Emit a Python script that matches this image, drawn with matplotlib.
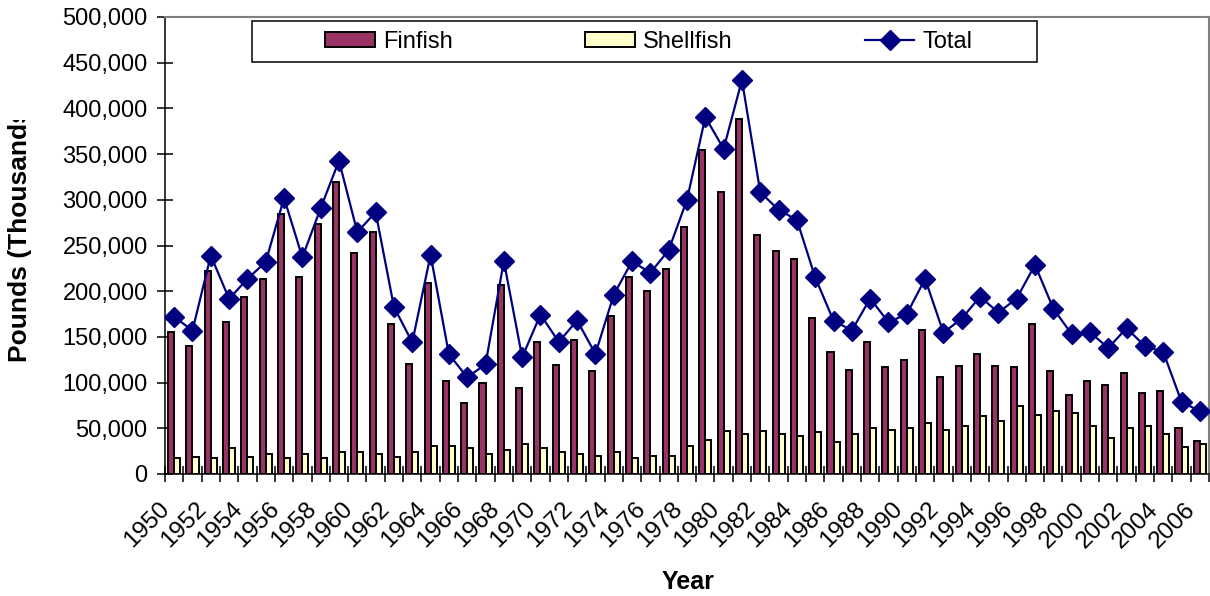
import matplotlib
matplotlib.use("Agg")
import matplotlib.pyplot as plt
import numpy as np
from matplotlib.patches import Rectangle
from matplotlib.ticker import FuncFormatter
from matplotlib.transforms import Bbox, TransformedBbox, ScaledTranslation

plt.rcParams["font.family"] = ["Liberation Sans", "DejaVu Sans"]

years = list(range(1950, 2007))
finfish = [155000, 140000, 222000, 166000, 194000, 213500, 285000, 215700, 274000, 319000,
           241600, 265000, 164000, 120800, 209500, 101500, 77400, 99300, 207000, 94500,
           144500, 119000, 146700, 112400, 172600, 215700, 200700, 224000, 269700, 354000,
           308000, 388000, 261000, 243800, 235400, 170800, 134000, 114000, 144000, 116800,
           125000, 157600, 105800, 118600, 131700, 118600, 116800, 164000, 112400, 86500,
           101500, 97000, 110000, 88700, 90900, 50000, 36500]
shellfish = [17000, 19000, 17000, 28000, 19000, 21500, 17000, 21500, 17000, 24000,
             24000, 21500, 19000, 24000, 30600, 30600, 28000, 22000, 26000, 33000,
             28000, 24000, 22000, 20000, 24000, 17500, 20000, 20000, 30600, 37000,
             47000, 44000, 47000, 44000, 42000, 46000, 35000, 44000, 50000, 48000,
             50000, 56000, 48000, 52500, 63000, 58000, 74000, 65000, 69000, 67000,
             52500, 39000, 50000, 52500, 44000, 30000, 32500]
total = [172000, 157000, 239000, 191600, 213500, 232000, 302000, 237000, 291000, 342700,
         264600, 286500, 182800, 144000, 239800, 131000, 105800, 120000, 233000, 127700,
         174400, 144500, 168000, 131400, 196000, 232800, 220000, 245000, 300000, 390500,
         355800, 431000, 308400, 289000, 278000, 215000, 167800, 157000, 192000, 166000,
         175000, 213500, 154700, 170000, 194000, 176600, 192000, 228800, 181000, 153000,
         155000, 138000, 159500, 140000, 133600, 79000, 68600]

W, H = 1210, 596
fig = plt.figure(figsize=(W / 100, H / 100), dpi=100)
ax = fig.add_axes([165 / W, 1 - 474 / H, (1209 - 165) / W, (474 - 17) / H])

x = np.arange(len(years))
bw = 0.33
b1 = ax.bar(x - bw / 2, finfish, bw, color="#993366", edgecolor="black", linewidth=1.4,
            label="Finfish", zorder=2)
b2 = ax.bar(x + bw / 2, shellfish, bw, color="#FFFFCC", edgecolor="black", linewidth=1.4,
            label="Shellfish", zorder=2)
ln, = ax.plot(x, total, color="#000080", lw=1.6, marker="D", markersize=10,
              label="Total", zorder=3)

ax.set_xlim(-0.5, len(years) - 0.5)
ax.set_ylim(0, 500000)
ax.set_yticks(np.arange(0, 500001, 50000))
ax.yaxis.set_major_formatter(FuncFormatter(lambda v, p: f"{int(v):,}"))
ax.tick_params(axis="y", direction="inout", length=11, width=1.1, labelsize=17, pad=7)

ax.set_xticks(x[::2])
ax.set_xticklabels([str(y) for y in years[::2]])
ax.set_xticks(np.arange(-0.5, len(years)), minor=True)
ax.tick_params(axis="x", which="major", length=0, labelsize=17.5, pad=23)
ax.tick_params(axis="x", which="minor", direction="inout", length=11, width=1.1)
shift = ScaledTranslation(-0.08, 0, fig.dpi_scale_trans)
for lbl in ax.get_xticklabels():
    lbl.set_rotation(45)
    lbl.set_ha("right")
    lbl.set_va("center")
    lbl.set_rotation_mode("anchor")
    lbl.set_transform(lbl.get_transform() + shift)

for s in ["left", "bottom"]:
    ax.spines[s].set_linewidth(1.1)
for s in ["top", "right"]:
    ax.spines[s].set_color("#808080")
    ax.spines[s].set_linewidth(1.5)

# legend: frameless entries plus a separate box
fig.legend([b1, b2, ln], ["Finfish", "Shellfish", "Total"], ncol=3, frameon=False,
           loc="center", bbox_to_anchor=(649 / W, 1 - 42 / H), fontsize=17,
           handlelength=2.1, handleheight=0.6, handletextpad=0.35, columnspacing=5.6)
fig.patches.append(Rectangle((252 / W, 1 - 62 / H), (1037 - 252) / W, 41 / H,
                             transform=fig.transFigure, facecolor="white",
                             edgecolor="black", linewidth=1.1, zorder=1))

fig.text(688 / W, 1 - 582 / H, "Year", ha="center", va="center",
         fontsize=18, fontweight="bold")
# axis title is cut off at the top in the original
ylab = fig.text(20 / W, 1 - 362 / H, "Pounds (Thousands)", rotation=90,
                ha="center", va="bottom", fontsize=19, fontweight="bold")
ylab.set_clip_box(TransformedBbox(Bbox([[0, 0], [1, 1 - 120 / H]]), fig.transFigure))
ylab.set_clip_on(True)

fig.savefig("out.png", dpi=100)
